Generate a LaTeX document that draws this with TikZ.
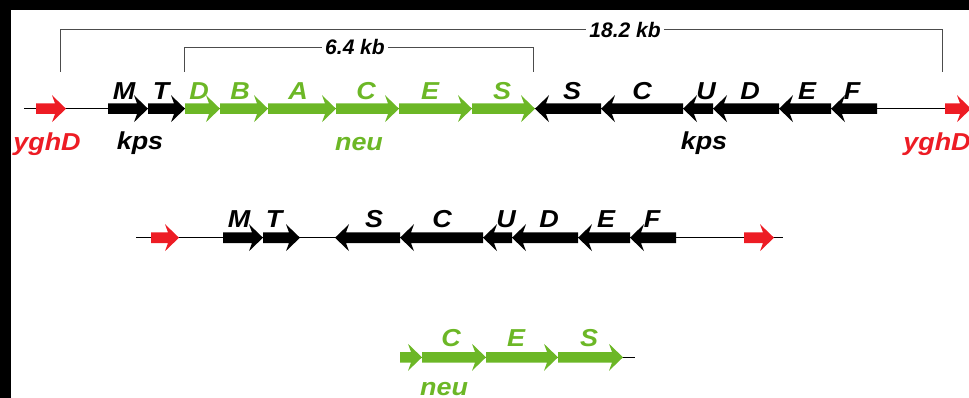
\documentclass[tikz,border=0pt]{standalone}
\usepackage{fontspec}
\setmainfont{Liberation Sans}
\newfontfamily\labfont[FakeStretch=1.1]{Liberation Sans}
\definecolor{gred}{RGB}{237,28,36}
\definecolor{ggreen}{RGB}{108,183,38}
\newcommand\geneR[4]{% start, tip, y, colour
  \fill[#4] (#1,#3-5.3) -- (#2-11,#3-5.3) -- (#2-14,#3-13.5) -- (#2,#3) -- (#2-14,#3+13.5) -- (#2-11,#3+5.3) -- (#1,#3+5.3) -- cycle;}
\newcommand\geneL[4]{% tip, end, y, colour
  \fill[#4] (#2,#3-5.3) -- (#1+11,#3-5.3) -- (#1+14,#3-13.5) -- (#1,#3) -- (#1+14,#3+13.5) -- (#1+11,#3+5.3) -- (#2,#3+5.3) -- cycle;}
\begin{document}
\begin{tikzpicture}[x=1pt,y=-1pt,
  lab/.style={font=\labfont\fontsize{24.5}{24}\selectfont\bfseries\itshape, anchor=base, inner sep=0pt},
  kb/.style={font=\fontsize{21}{21}\selectfont\bfseries\itshape, anchor=base, inner sep=3pt},
  axis/.style={draw=black, line width=1.3pt},
  brk/.style={draw=black!70, line width=0.9pt}]
\useasboundingbox (0,0) rectangle (969,398);
\clip (0,0) rectangle (969,398);
\fill[black] (0,0) rectangle (969,10);
\fill[black] (0,0) rectangle (11,398);

% ---------- row 1 ----------
\coordinate (r1a) at (24,108.7);
\coordinate (r1b) at (969,108.7);
\draw[axis] (r1a) -- (r1b);
\geneR{36}{66}{108.7}{gred}
\geneR{108}{148}{108.7}{black}
\geneR{148}{185}{108.7}{black}
\geneR{185}{220}{108.7}{ggreen}
\geneR{220}{268}{108.7}{ggreen}
\geneR{268}{336}{108.7}{ggreen}
\geneR{336}{399}{108.7}{ggreen}
\geneR{399}{472}{108.7}{ggreen}
\geneR{472}{535}{108.7}{ggreen}
\geneL{535}{601}{108.7}{black}
\geneL{601}{683}{108.7}{black}
\geneL{683}{713}{108.7}{black}
\geneL{713}{779}{108.7}{black}
\geneL{779}{831}{108.7}{black}
\geneL{831}{877}{108.7}{black}
\geneR{945}{971}{108.7}{gred}

\node[lab] (m1) at (124,100) {M};
\node[lab] (t1) at (161,100) {T};
\node[lab, ggreen] (nd1) at (199,100) {D};
\node[lab, ggreen] (nb1) at (240,100) {B};
\node[lab, ggreen] (na1) at (298,100) {A};
\node[lab, ggreen] (nc1) at (366,100) {C};
\node[lab, ggreen] (ne1) at (430,100) {E};
\node[lab, ggreen] (ns1) at (502,100) {S};
\node[lab] (s1) at (572,100) {S};
\node[lab] (c1) at (642,100) {C};
\node[lab] (u1) at (706,100) {U};
\node[lab] (d1) at (750,100) {D};
\node[lab] (e1) at (807,100) {E};
\node[lab] (f1) at (852,100) {F};
\node[lab] (kpsL) at (140,149.5) {kps};
\node[lab] (kpsR) at (704,149.5) {kps};
\node[lab, ggreen] (neu1) at (359,151) {neu};
\node[lab, gred] (yL) at (47,150.5) {yghD};
\node[lab, gred] (yR) at (937,150.5) {yghD};

% brackets
\node[kb] (kb18) at (625,38) {18.2 kb};
\node[kb] (kb64) at (355,55) {6.4 kb};
\coordinate (b18a) at (60,72);
\coordinate (b18t) at (60,29);
\coordinate (b18u) at (942,29);
\coordinate (b18b) at (942,72);
\draw[brk] (b18a) -- (b18t) -- (kb18.west |- b18t);
\draw[brk] (kb18.east |- b18t) -- (b18u) -- (b18b);
\coordinate (b64a) at (184,72);
\coordinate (b64t) at (184,47);
\coordinate (b64u) at (533,47);
\coordinate (b64b) at (533,72);
\draw[brk] (b64a) -- (b64t) -- (kb64.west |- b64t);
\draw[brk] (kb64.east |- b64t) -- (b64u) -- (b64b);

% ---------- row 2 ----------
\coordinate (r2a) at (136,237.7);
\coordinate (r2b) at (783,237.7);
\draw[axis] (r2a) -- (r2b);
\geneR{151}{179}{237.7}{gred}
\geneR{223}{263}{237.7}{black}
\geneR{263}{300}{237.7}{black}
\geneL{335}{400}{237.7}{black}
\geneL{400}{483}{237.7}{black}
\geneL{483}{512}{237.7}{black}
\geneL{512}{578}{237.7}{black}
\geneL{578}{630}{237.7}{black}
\geneL{630}{676}{237.7}{black}
\geneR{744}{774}{237.7}{gred}
\node[lab] (m2) at (239,227.7) {M};
\node[lab] (t2) at (274,227.7) {T};
\node[lab] (s2) at (374,227.7) {S};
\node[lab] (c2) at (442,227.7) {C};
\node[lab] (u2) at (506,227.7) {U};
\node[lab] (d2) at (549,227.7) {D};
\node[lab] (e2) at (606,227.7) {E};
\node[lab] (f2) at (652,227.7) {F};

% ---------- row 3 ----------
\coordinate (r3a) at (410,357.3);
\coordinate (r3b) at (635,357.3);
\draw[axis] (r3a) -- (r3b);
\geneR{400}{422}{357.3}{ggreen}
\geneR{422}{486}{357.3}{ggreen}
\geneR{486}{558}{357.3}{ggreen}
\geneR{558}{623}{357.3}{ggreen}
\node[lab, ggreen] (c3) at (451,346.7) {C};
\node[lab, ggreen] (e3) at (516,346.7) {E};
\node[lab, ggreen] (s3) at (589,346.7) {S};
\node[lab, ggreen] (neu3) at (444,395.5) {neu};
\end{tikzpicture}
\end{document}
